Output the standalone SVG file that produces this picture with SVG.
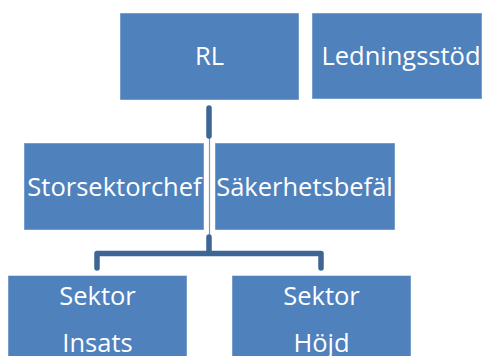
<svg xmlns="http://www.w3.org/2000/svg" width="483" height="356" viewBox="0 0 483 356">
<style>
.box{fill:#4F81BD;stroke:#ffffff;stroke-opacity:0.45;stroke-width:1}
.lbl{fill:#ffffff;font-family:"Open Sans","Liberation Sans",Arial,sans-serif;font-size:25.5px;text-anchor:middle}
.thick{fill:none;stroke:#3D6596;stroke-width:5.5;stroke-linecap:round;stroke-linejoin:round}
.thin{fill:none;stroke:#7F97B8;stroke-width:1.2}
</style>
<rect width="483" height="356" fill="#ffffff"/>
<g id="connectors">
<line class="thin" x1="209.5" y1="136" x2="209.5" y2="237"/>
<line class="thick" x1="209" y1="108" x2="209" y2="136"/>
<path class="thick" d="M209,237 V253.5 M97,268 V253.5 H321 V268"/>
</g>
<g id="rl">
<rect class="box" x="120" y="13" width="179" height="87"/>
<text class="lbl" x="209.5" y="65">RL</text>
</g>
<g id="ledningsstod">
<rect class="box" x="312" y="13" width="170" height="86"/>
<text class="lbl" x="401" y="65">Ledningsstöd</text>
</g>
<g id="storsektorchef">
<rect class="box" x="24" y="143" width="180" height="87"/>
<text class="lbl" x="114.5" y="196">Storsektorchef</text>
</g>
<g id="sakerhetsbefal">
<rect class="box" x="215" y="143" width="180" height="87"/>
<text class="lbl" x="304.5" y="196">Säkerhetsbefäl</text>
</g>
<g id="sektor-insats">
<rect class="box" x="8" y="275.5" width="179" height="90"/>
<text class="lbl" x="97.5" y="305">Sektor</text>
<text class="lbl" x="97.5" y="352">Insats</text>
</g>
<g id="sektor-hojd">
<rect class="box" x="232" y="275.5" width="179" height="90"/>
<text class="lbl" x="321.5" y="305">Sektor</text>
<text class="lbl" x="321.5" y="352">Höjd</text>
</g>
</svg>
